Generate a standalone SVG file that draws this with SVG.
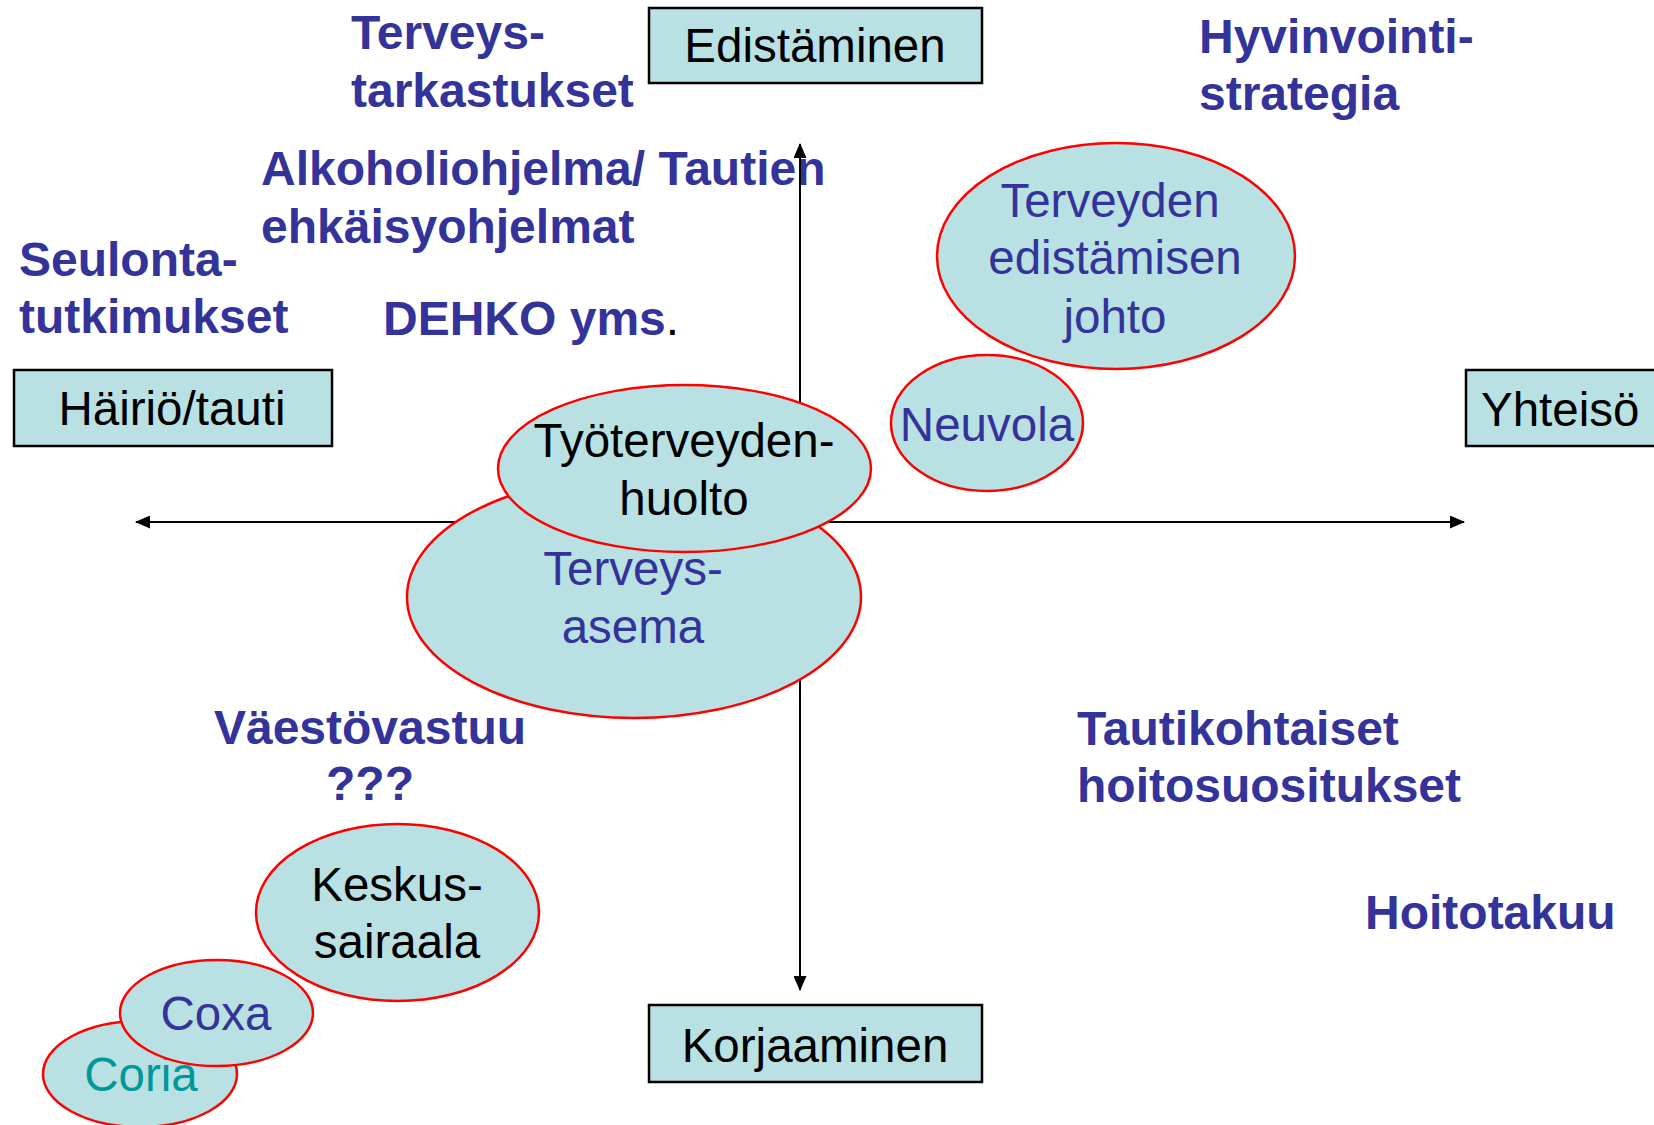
<svg xmlns="http://www.w3.org/2000/svg" width="1654" height="1125" viewBox="0 0 1654 1125">
<style>
.box{fill:#B9E0E3;stroke:#000;stroke-width:2.5}
.ell{fill:#B9E0E3;stroke:#FF0000;stroke-width:2.5}
.t{font-family:"Liberation Sans",Arial,sans-serif;font-size:47.5px}
.lbl{font-family:"Liberation Sans",Arial,sans-serif;font-size:48px;font-weight:bold;fill:#333399}
.blk{fill:#000}
.blu{fill:#333399}
.tea{fill:#009999}
.mid{text-anchor:middle}
.ax{stroke:#000;stroke-width:2;fill:none}
</style>
<defs>
<marker id="ah" viewBox="0 0 15 13" refX="14" refY="6.5" markerWidth="15" markerHeight="13" markerUnits="userSpaceOnUse" orient="auto-start-reverse">
<path d="M0,0 L15,6.5 L0,13 z" fill="#000"/>
</marker>
</defs>
<rect width="1654" height="1125" fill="#fff"/>
<g id="labels">
<text class="lbl" x="351" y="49">Terveys-</text>
<text class="lbl" x="351" y="107">tarkastukset</text>
<text class="lbl" x="261" y="185">Alkoholiohjelma/ Tautien</text>
<text class="lbl" x="261" y="243">ehkäisyohjelmat</text>
<text class="lbl" x="19" y="276">Seulonta-</text>
<text class="lbl" x="19" y="333">tutkimukset</text>
<text class="lbl" x="383" y="335">DEHKO yms<tspan font-weight="normal" fill="#000">.</tspan></text>
<text class="lbl" x="1199" y="53">Hyvinvointi-</text>
<text class="lbl" x="1199" y="110">strategia</text>
<text class="lbl mid" x="370" y="744">Väestövastuu</text>
<text class="lbl mid" x="370" y="800">???</text>
<text class="lbl" x="1077" y="745">Tautikohtaiset</text>
<text class="lbl" x="1077" y="802">hoitosuositukset</text>
<text class="lbl" x="1365" y="929">Hoitotakuu</text>
</g>
<g id="connectors">
<line class="ax" x1="136" y1="522" x2="1464" y2="522" marker-start="url(#ah)" marker-end="url(#ah)"/>
<line class="ax" x1="800" y1="144" x2="800" y2="990" marker-start="url(#ah)" marker-end="url(#ah)"/>
</g>
<g id="edistaminen">
<rect class="box" x="649" y="8" width="333" height="75"/>
<text class="t blk mid" x="815" y="62">Edistäminen</text>
</g>
<g id="korjaaminen">
<rect class="box" x="649" y="1005" width="333" height="77"/>
<text class="t blk mid" x="815" y="1062">Korjaaminen</text>
</g>
<g id="hairio">
<rect class="box" x="14" y="370" width="318" height="76"/>
<text class="t blk mid" x="172" y="425">Häiriö/tauti</text>
</g>
<g id="yhteiso">
<rect class="box" x="1466" y="370" width="200" height="76"/>
<text class="t blk" x="1481" y="426">Yhteisö</text>
</g>
<g id="terveyden-edistamisen-johto">
<ellipse class="ell" cx="1116" cy="256" rx="179" ry="113"/>
<text class="t blu mid" x="1110" y="217">Terveyden</text>
<text class="t blu mid" x="1115" y="274">edistämisen</text>
<text class="t blu mid" x="1115" y="333">johto</text>
</g>
<g id="neuvola">
<ellipse class="ell" cx="987" cy="423" rx="96" ry="68"/>
<text class="t blu mid" x="987" y="441">Neuvola</text>
</g>
<g id="terveysasema">
<ellipse class="ell" cx="634" cy="597" rx="227" ry="121"/>
<text class="t blu mid" x="633" y="585">Terveys-</text>
<text class="t blu mid" x="633" y="643">asema</text>
</g>
<g id="tyoterveydenhuolto">
<ellipse class="ell" cx="684.5" cy="468.5" rx="186.5" ry="83.5"/>
<text class="t blk mid" x="684" y="457">Työterveyden-</text>
<text class="t blk mid" x="684" y="515">huolto</text>
</g>
<g id="keskussairaala">
<ellipse class="ell" cx="397.5" cy="912.5" rx="141.5" ry="88.5"/>
<text class="t blk mid" x="397" y="901">Keskus-</text>
<text class="t blk mid" x="397" y="958">sairaala</text>
</g>
<g id="coria">
<ellipse class="ell" cx="140" cy="1074" rx="97" ry="53"/>
<text class="t tea mid" x="141" y="1091">Coria</text>
</g>
<g id="coxa">
<ellipse class="ell" cx="216.5" cy="1013" rx="96.5" ry="53"/>
<text class="t blu mid" x="216" y="1030">Coxa</text>
</g>
</svg>
